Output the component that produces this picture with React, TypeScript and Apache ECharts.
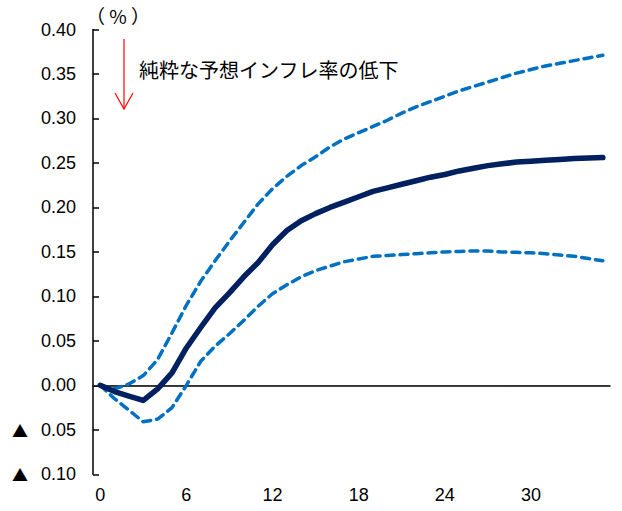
import React, { useEffect, useRef } from "react";
import * as echarts from "echarts";

const categories: string[] = Array.from({ length: 36 }, (_, i) => String(i));

const central: number[] = [
  0, -0.007, -0.012, -0.017, -0.004, 0.014, 0.042, 0.065, 0.087, 0.104,
  0.122, 0.138, 0.158, 0.174, 0.185, 0.193, 0.2, 0.206, 0.212, 0.218,
  0.222, 0.226, 0.23, 0.234, 0.237, 0.241, 0.244, 0.247, 0.249, 0.251,
  0.252, 0.253, 0.254, 0.255, 0.2555, 0.256,
];

const upper: number[] = [
  0, -0.004, 0.0015, 0.011, 0.029, 0.059, 0.09, 0.117, 0.14, 0.162,
  0.183, 0.204, 0.221, 0.235, 0.247, 0.257, 0.268, 0.277, 0.284, 0.291,
  0.298, 0.306, 0.313, 0.319, 0.325, 0.331, 0.336, 0.341, 0.346, 0.351,
  0.355, 0.359, 0.362, 0.365, 0.368, 0.371,
];

const lower: number[] = [
  0, -0.015, -0.028, -0.041, -0.038, -0.025, 0.0, 0.027, 0.044, 0.058,
  0.073, 0.089, 0.103, 0.113, 0.122, 0.129, 0.134, 0.139, 0.142, 0.145,
  0.146, 0.147, 0.148, 0.149, 0.15, 0.1505, 0.151, 0.151, 0.15, 0.1495,
  0.149, 0.148, 0.1465, 0.145, 0.1425, 0.14,
];

const unitLabel = "（ % ）";
const annotation = "純粋な予想インフレ率の低下";

export default function App() {
  const ref = useRef<HTMLDivElement>(null);
  useEffect(() => {
    document.body.style.margin = "0";
    if (!ref.current) return;
    const chart = echarts.init(ref.current, undefined, { renderer: "svg" });
    const font = "'Liberation Sans', Arial, sans-serif";
    const cjk = "'Noto Sans CJK JP', sans-serif";
    const dashStyle = {
      color: "#0070C0",
      width: 3.5,
      type: [8, 6] as number[],
      cap: "round" as const,
    };
    chart.setOption({
      animation: false,
      backgroundColor: "#ffffff",
      grid: { left: 93, right: 12, top: 29.5, bottom: 36.7, containLabel: false },
      xAxis: {
        type: "category",
        data: categories,
        boundaryGap: true,
        axisLine: { lineStyle: { color: "#000", width: 1.5 } },
        axisTick: { interval: 5, length: 6, lineStyle: { color: "#000", width: 1.5 } },
        axisLabel: { interval: 5, color: "#000", fontSize: 18, fontFamily: font, margin: 12 },
        splitLine: { show: false },
      },
      yAxis: {
        type: "value",
        min: -0.1,
        max: 0.4,
        interval: 0.05,
        axisLine: { show: true, lineStyle: { color: "#000", width: 1.5 } },
        axisTick: { show: true, inside: true, length: 6, lineStyle: { color: "#000", width: 1.5 } },
        axisLabel: {
          color: "#000",
          fontSize: 18,
          fontFamily: font,
          margin: 17,
          formatter: (v: number) =>
            v < 0 ? "{t|▲} " + Math.abs(v).toFixed(2) : v.toFixed(2),
          rich: {
            t: { fontFamily: cjk, fontSize: 16, color: "#000", padding: [0, 8, 0, 0] },
          },
        },
        splitLine: { show: false },
      },
      series: [
        {
          type: "line",
          data: upper,
          symbol: "none",
          lineStyle: dashStyle,
          z: 2,
        },
        {
          type: "line",
          data: lower,
          symbol: "none",
          lineStyle: dashStyle,
          z: 2,
        },
        {
          type: "line",
          data: central,
          symbol: "none",
          lineStyle: { color: "#002060", width: 5.5, cap: "round", join: "round" },
          z: 3,
          markLine: {
            silent: true,
            symbol: "none",
            label: { show: false },
            lineStyle: { color: "#333", width: 1, type: "solid" },
            data: [{ yAxis: 0 }],
            z: 1,
          },
        },
      ],
      graphic: [
        {
          type: "text",
          left: 86,
          top: 6,
          style: { text: unitLabel, fontSize: 19, fill: "#000", fontFamily: cjk },
        },
        {
          type: "text",
          left: 139,
          top: 59,
          style: { text: annotation, fontSize: 20, fill: "#000", fontFamily: cjk },
        },
        {
          type: "line",
          shape: { x1: 124, y1: 39, x2: 124, y2: 109 },
          style: { stroke: "#FF0000", lineWidth: 1.2 },
        },
        {
          type: "polyline",
          shape: { points: [[115, 93], [124, 109], [133, 93]] },
          style: { stroke: "#FF0000", lineWidth: 1.2, fill: "none" },
        },
      ],
    });
    return () => chart.dispose();
  }, []);
  return <div ref={ref} style={{ width: 622, height: 511 }} />;
}
